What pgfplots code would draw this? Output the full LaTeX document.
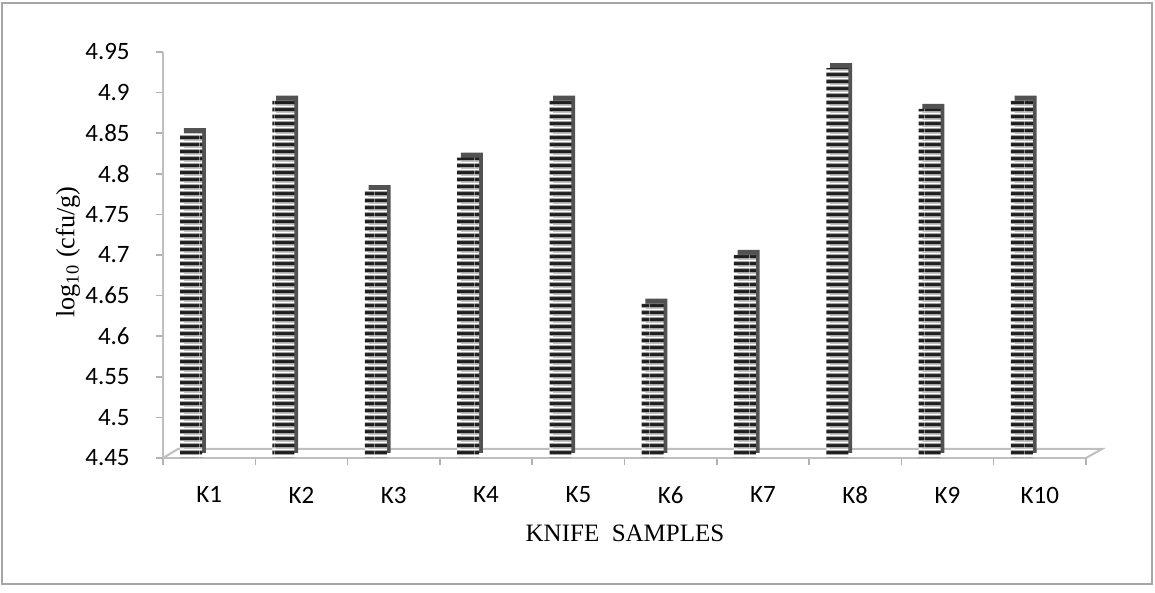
\documentclass[border=0pt]{standalone}
\usepackage{fontspec}
\setmainfont{Liberation Serif}
\newfontfamily\calib{Carlito}
\usepackage{pgfplots}
\pgfplotsset{compat=1.18}
\usepackage{pgfplotstable}
\usetikzlibrary{patterns}

\pgfdeclarepatterninherentlycolored{kstripes}{\pgfpointorigin}{\pgfpoint{10pt}{2.92pt}}{\pgfpoint{10pt}{2.92pt}}{%
 \pgfsetfillcolor{white}\pgfpathrectangle{\pgfpoint{0pt}{0pt}}{\pgfpoint{10pt}{2.92pt}}\pgfusepath{fill}%
 \pgfsetfillcolor{black!35}\pgfpathrectangle{\pgfpoint{0pt}{0pt}}{\pgfpoint{10pt}{0.5pt}}\pgfusepath{fill}%
 \pgfsetfillcolor{black!88}\pgfpathrectangle{\pgfpoint{0pt}{0.5pt}}{\pgfpoint{10pt}{1.2pt}}\pgfusepath{fill}%
 \pgfsetfillcolor{black!55}\pgfpathrectangle{\pgfpoint{0pt}{1.7pt}}{\pgfpoint{10pt}{0.35pt}}\pgfusepath{fill}%
}

\pgfplotstableread{
x v
0.5 4.85
1.5 4.89
2.5 4.78
3.5 4.82
4.5 4.89
5.5 4.64
6.5 4.70
7.5 4.93
8.5 4.88
9.5 4.89
}\knifedata

\begin{document}
\begin{tikzpicture}[x=0.4pt,y=0.4pt]
\path[use as bounding box] (0,0) rectangle (1155,593);
\draw[gray!70, line width=0.8pt] (2,9) rectangle (1152,590);
% floor
\draw[gray!50, line width=0.8pt] (163,135) -- (178,144) -- (1102,144) -- (1086,135);
\begin{axis}[
  at={(65.2pt,54pt)}, anchor=south west,
  scale only axis, width=369.2pt, height=162.4pt,
  xmin=0, xmax=10, ymin=4.45, ymax=4.95,
  axis x line*=bottom, axis y line*=left,
  axis line style={gray!50, line width=0.8pt, -},
  tick align=outside, major tick length=2.8pt,
  tick style={gray!60, line width=0.6pt},
  xtick={0,1,2,3,4,5,6,7,8,9,10}, xticklabels={},
  extra x ticks={0.5,1.5,2.5,3.5,4.5,5.5,6.5,7.5,8.5,9.5},
  extra x tick labels={K1,K2,K3,K4,K5,K6,K7,K8,K9,K10},
  extra x tick style={major tick length=0pt},
  ytick={4.45,4.5,4.55,4.6,4.65,4.7,4.75,4.8,4.85,4.9,4.95},
  /pgf/number format/.cd, fixed, precision=2, assume math mode=true,
  /pgfplots/.cd,
  ticklabel style={font=\calib\fontsize{10}{12}\selectfont},
  xticklabel style={yshift=-8pt},
  yticklabel style={xshift=-7pt},
]
\addplot[ybar, bar width=8.8pt, bar shift=-7.2pt, draw=none, fill=black!68, xshift=1.5pt, yshift=2pt] table[x=x, y=v] {\knifedata};
\addplot[ybar, bar width=8.8pt, bar shift=-7.2pt, draw=none, pattern=kstripes] table[x=x, y=v] {\knifedata};
\end{axis}
\node[rotate=90, font=\fontsize{10.5}{12}\selectfont] at (68,341) {log\textsubscript{10} (cfu/g)};
\node[font=\fontsize{10}{12}\selectfont] at (625,60) {KNIFE\ \ SAMPLES};
\end{tikzpicture}
\end{document}
